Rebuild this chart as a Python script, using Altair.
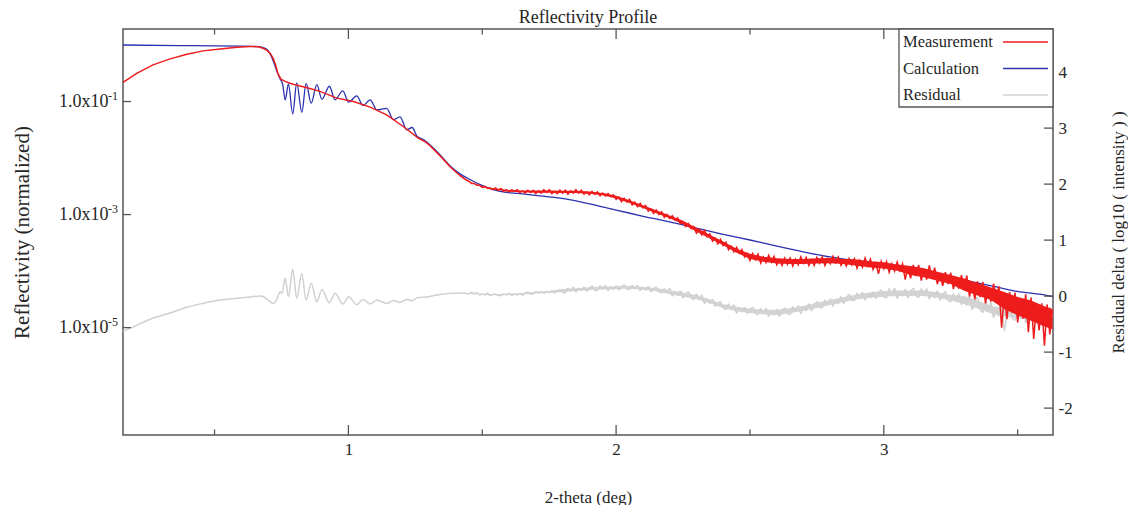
import altair as alt
import numpy as np
import pandas as pd

FONT = "Liberation Serif"
TXT = "#262626"
FRAME = "#555555"
W, H = 930, 406

# ---------------- data ----------------
x_domain = [0.158, 3.632]
left_domain = [1.2589e-7, 1.9187]          # 10^-6.9 .. 10^0.283
right_domain = [-2.48, 4.77]

# Measurement: log10(normalized reflectivity)
meas_smooth_x = [0.158, 0.211, 0.270, 0.334, 0.397, 0.457, 0.521, 0.584, 0.633, 0.663,
                 0.681, 0.696, 0.708, 0.719, 0.728, 0.737, 0.749, 0.764, 0.782, 0.808,
                 0.846, 0.894, 0.957, 1.019, 1.081, 1.143, 1.205, 1.261, 1.287, 1.305,
                 1.342, 1.380, 1.417, 1.436]
meas_smooth_log = [-0.661, -0.498, -0.352, -0.246, -0.163, -0.104, -0.069, -0.039, -0.025, -0.030,
                   -0.057, -0.095, -0.148, -0.237, -0.352, -0.511, -0.608, -0.643, -0.678, -0.714,
                   -0.758, -0.820, -0.940, -1.000, -1.099, -1.235, -1.442, -1.647, -1.712, -1.783,
                   -1.959, -2.154, -2.313, -2.375]
noisy_x = [round(1.45 + 0.01 * i, 2) for i in range(219)]   # 1.45 .. 3.63
meas_noisy_log = [
    -2.41, -2.45, -2.45, -2.48, -2.48, -2.52, -2.50, -2.54, -2.53, -2.56,
    -2.53, -2.57, -2.54, -2.59, -2.56, -2.60, -2.56, -2.59, -2.56, -2.61,
    -2.58, -2.62, -2.57, -2.61, -2.57, -2.63, -2.58, -2.62, -2.56, -2.61,
    -2.56, -2.63, -2.59, -2.63, -2.57, -2.62, -2.57, -2.64, -2.58, -2.62,
    -2.56, -2.62, -2.57, -2.64, -2.60, -2.65, -2.59, -2.64, -2.60, -2.67,
    -2.62, -2.67, -2.63, -2.68, -2.65, -2.73, -2.69, -2.77, -2.71, -2.78,
    -2.73, -2.83, -2.78, -2.86, -2.80, -2.88, -2.84, -2.94, -2.90, -2.98,
    -2.92, -3.00, -2.95, -3.05, -3.00, -3.07, -3.02, -3.10, -3.06, -3.16,
    -3.13, -3.21, -3.16, -3.25, -3.21, -3.33, -3.26, -3.36, -3.28, -3.39,
    -3.34, -3.47, -3.42, -3.52, -3.44, -3.55, -3.49, -3.62, -3.56, -3.66,
    -3.58, -3.68, -3.62, -3.75, -3.69, -3.81, -3.69, -3.80, -3.70, -3.86,
    -3.75, -3.85, -3.72, -3.84, -3.74, -3.89, -3.80, -3.90, -3.77, -3.88,
    -3.77, -3.91, -3.79, -3.89, -3.75, -3.86, -3.76, -3.90, -3.80, -3.90,
    -3.76, -3.86, -3.75, -3.90, -3.78, -3.87, -3.74, -3.85, -3.75, -3.90,
    -3.81, -3.91, -3.78, -3.89, -3.78, -3.95, -3.81, -3.93, -3.77, -3.91,
    -3.79, -3.97, -3.86, -4.05, -3.83, -3.96, -3.83, -4.02, -3.87, -4.00,
    -3.84, -3.99, -3.87, -4.15, -3.94, -4.13, -3.89, -4.09, -3.89, -4.17,
    -3.96, -4.15, -3.90, -4.13, -3.94, -4.23, -4.06, -4.26, -4.02, -4.23,
    -4.03, -4.32, -4.11, -4.31, -4.07, -4.32, -4.08, -4.45, -4.23, -4.50,
    -4.18, -4.46, -4.19, -4.57, -4.28, -4.54, -4.22, -4.51, -4.27, -5.00,
    -4.42, -4.85, -4.37, -4.74, -4.38, -4.91, -4.48, -4.84, -4.41, -5.08,
    -4.47, -5.20, -4.62, -5.05, -4.57, -5.32, -4.59, -5.12, -4.69,
]
# solid core of the noisy measurement band (lower / upper edge, log10)
band_x = [1.45, 1.50, 1.55, 1.60, 1.65, 1.70, 1.75, 1.80, 1.85, 1.90,
          1.95, 2.00, 2.05, 2.10, 2.15, 2.20, 2.25, 2.30, 2.35, 2.40,
          2.45, 2.50, 2.55, 2.60, 2.65, 2.70, 2.75, 2.80, 2.85, 2.90,
          2.95, 3.00, 3.05, 3.10, 3.15, 3.20, 3.25, 3.30, 3.35, 3.40,
          3.45, 3.50, 3.55, 3.60, 3.63]
meas_band_lo = [-2.425, -2.518, -2.562, -2.595, -2.605, -2.615, -2.615, -2.62, -2.62, -2.63,
                -2.66, -2.715, -2.795, -2.885, -2.975, -3.065, -3.17, -3.305, -3.425, -3.545,
                -3.675, -3.785, -3.835, -3.865, -3.875, -3.875, -3.865, -3.86, -3.875, -3.905,
                -3.935, -3.955, -3.995, -4.07, -4.11, -4.17, -4.23, -4.35, -4.43, -4.51,
                -4.67, -4.78, -4.88, -4.98, -5.03]
meas_band_hi = [-2.415, -2.502, -2.538, -2.565, -2.575, -2.575, -2.575, -2.58, -2.58, -2.59,
                -2.62, -2.665, -2.745, -2.835, -2.925, -3.015, -3.11, -3.235, -3.355, -3.475,
                -3.605, -3.695, -3.745, -3.775, -3.785, -3.785, -3.775, -3.77, -3.785, -3.795,
                -3.825, -3.845, -3.885, -3.91, -3.95, -4.01, -4.07, -4.13, -4.21, -4.29,
                -4.37, -4.46, -4.52, -4.62, -4.67]

# Calculation: log10(normalized reflectivity)
calc_x = [0.158, 0.371, 0.595, 0.663, 0.685, 0.700, 0.711, 0.722, 0.734, 0.745,
          0.754, 0.764, 0.776, 0.792, 0.807, 0.826, 0.842, 0.861, 0.882, 0.901,
          0.929, 0.950, 0.979, 1.001, 1.031, 1.055, 1.081, 1.107, 1.143, 1.168,
          1.193, 1.218, 1.238, 1.257, 1.283, 1.305, 1.342, 1.380, 1.417, 1.454,
          1.492, 1.529, 1.567, 1.641, 1.716, 1.791, 2.000, 2.101, 2.200, 2.299,
          2.400, 2.500, 2.601, 2.699, 2.799, 2.900, 3.001, 3.098, 3.199, 3.300,
          3.401, 3.498, 3.599, 3.632]
calc_log = [0.00, -0.01, -0.02, -0.03, -0.05, -0.10, -0.19, -0.32, -0.48, -0.60,
            -0.69, -0.97, -0.69, -1.22, -0.67, -1.19, -0.68, -1.03, -0.70, -0.96,
            -0.73, -0.97, -0.81, -1.01, -0.90, -1.07, -0.97, -1.15, -1.12, -1.32,
            -1.27, -1.50, -1.46, -1.62, -1.68, -1.77, -1.94, -2.14, -2.28, -2.38,
            -2.47, -2.54, -2.59, -2.63, -2.67, -2.71, -2.92, -3.03, -3.13, -3.24,
            -3.35, -3.45, -3.56, -3.66, -3.75, -3.82, -3.89, -3.97, -4.06, -4.16,
            -4.26, -4.36, -4.42, -4.45]

# Residual delta (log10 intensity), right axis
res_smooth_x = [0.158, 0.196, 0.271, 0.334, 0.396, 0.457, 0.521, 0.583, 0.640, 0.675,
                0.697, 0.719, 0.733, 0.745, 0.752, 0.764, 0.776, 0.792, 0.807, 0.826,
                0.842, 0.861, 0.882, 0.901, 0.929, 0.950, 0.979, 1.001, 1.031, 1.055,
                1.081, 1.107, 1.143, 1.168, 1.193, 1.218, 1.238, 1.257, 1.300, 1.330,
                1.392, 1.430]
res_smooth = [-0.63, -0.55, -0.39, -0.30, -0.20, -0.13, -0.07, -0.04, -0.01, 0.00,
              -0.06, -0.13, -0.05, 0.08, 0.05, 0.32, -0.01, 0.48, -0.04, 0.40,
              -0.07, 0.23, -0.10, 0.12, -0.12, 0.05, -0.14, -0.01, -0.15, -0.06,
              -0.14, -0.07, -0.13, -0.08, -0.11, -0.06, -0.08, -0.03, -0.01, 0.02,
              0.05, 0.055]
res_noisy = [
    0.04, 0.07, 0.04, 0.06, 0.02, 0.04, 0.02, 0.05, 0.01, 0.03,
    0.04, 0.01, 0.01, 0.04, 0.02, 0.05, 0.01, 0.04, 0.02, 0.05,
    0.02, 0.05, 0.07, 0.04, 0.04, 0.08, 0.06, 0.08, 0.05, 0.08,
    0.06, 0.09, 0.06, 0.09, 0.11, 0.07, 0.06, 0.14, 0.09, 0.16,
    0.07, 0.14, 0.10, 0.16, 0.09, 0.14, 0.18, 0.11, 0.10, 0.18,
    0.13, 0.19, 0.10, 0.16, 0.12, 0.18, 0.11, 0.16, 0.20, 0.13,
    0.12, 0.19, 0.14, 0.19, 0.10, 0.16, 0.11, 0.17, 0.08, 0.13,
    0.16, 0.08, 0.06, 0.13, 0.07, 0.14, 0.00, 0.08, 0.01, 0.09,
    -0.03, 0.03, 0.08, -0.03, -0.06, 0.04, -0.05, 0.02, -0.13, -0.05,
    -0.13, -0.06, -0.18, -0.13, -0.10, -0.21, -0.24, -0.14, -0.23, -0.16,
    -0.30, -0.21, -0.28, -0.20, -0.31, -0.25, -0.20, -0.30, -0.33, -0.22,
    -0.30, -0.22, -0.36, -0.27, -0.34, -0.24, -0.36, -0.27, -0.21, -0.31,
    -0.33, -0.19, -0.27, -0.17, -0.31, -0.19, -0.26, -0.14, -0.26, -0.17,
    -0.10, -0.20, -0.21, -0.07, -0.15, -0.05, -0.18, -0.07, -0.13, -0.01,
    -0.13, -0.04, 0.03, -0.07, -0.08, 0.05, -0.03, 0.07, -0.07, 0.04,
    -0.03, 0.08, -0.04, 0.05, 0.11, -0.01, -0.03, 0.13, 0.02, 0.14,
    -0.04, 0.09, 0.00, 0.12, -0.03, 0.07, 0.14, 0.01, -0.02, 0.13,
    0.02, 0.13, -0.05, 0.07, -0.03, 0.09, -0.07, 0.02, 0.08, -0.07,
    -0.10, 0.04, -0.07, 0.04, -0.15, -0.02, -0.16, 0.00, -0.24, -0.11,
    -0.02, -0.23, -0.29, -0.09, -0.26, -0.11, -0.38, -0.21, -0.35, -0.18,
    -0.62, -0.27, -0.18, -0.39, -0.43, -0.22, -0.38, -0.21, -0.48, -0.30,
    -0.43, -0.24, -0.46, -0.31, -0.20, -0.39, -0.42, -0.20, -0.36,
]
res_band_lo = [0.045, 0.027, 0.015, 0.018, 0.033, 0.045, 0.06, 0.075, 0.09, 0.11,
               0.12, 0.125, 0.13, 0.115, 0.085, 0.035, -0.005, -0.055, -0.125, -0.215,
               -0.27, -0.30, -0.325, -0.335, -0.305, -0.26, -0.21, -0.16, -0.105, -0.06,
               -0.03, -0.01, 0.0, 0.0, 0.0, -0.03, -0.08, -0.14, -0.22, -0.31,
               -0.37, -0.40, -0.42, -0.40, -0.39]
res_band_hi = [0.055, 0.043, 0.035, 0.042, 0.057, 0.075, 0.09, 0.125, 0.14, 0.16,
               0.17, 0.175, 0.18, 0.165, 0.145, 0.105, 0.065, 0.015, -0.055, -0.145,
               -0.19, -0.22, -0.245, -0.245, -0.215, -0.17, -0.12, -0.07, -0.015, 0.03,
               0.07, 0.09, 0.10, 0.10, 0.10, 0.07, 0.02, 0.0, -0.08, -0.17,
               -0.21, -0.24, -0.26, -0.24, -0.23]

# axes / ticks / legend text
x_major = [1, 2, 3]
x_minor = [0.5, 1.5, 2.5, 3.5]
left_ticks = [1e-1, 1e-3, 1e-5]
left_exp = ["-1", "-3", "-5"]
right_ticks = [-2, -1, 0, 1, 2, 3, 4]
legend_labels = ["Measurement", "Calculation", "Residual"]
legend_colors = ["#EE1C1C", "#2A32B0", "#D0D0D0"]

# ---------------- frames ----------------
meas_df = pd.DataFrame({"x": meas_smooth_x + noisy_x,
                        "y": 10 ** np.array(meas_smooth_log + meas_noisy_log)})
meas_band_df = pd.DataFrame({"x": band_x, "lo": 10 ** np.array(meas_band_lo),
                             "hi": 10 ** np.array(meas_band_hi)})
calc_df = pd.DataFrame({"x": calc_x, "y": 10 ** np.array(calc_log)})
res_df = pd.DataFrame({"x": res_smooth_x + noisy_x, "r": res_smooth + res_noisy})
res_band_df = pd.DataFrame({"x": band_x, "lo": res_band_lo, "hi": res_band_hi})

xscale = alt.Scale(domain=x_domain, nice=False, zero=False)
lscale = alt.Scale(type="log", domain=left_domain, nice=False)
rscale = alt.Scale(domain=right_domain, nice=False, zero=False)

x_axis = alt.Axis(values=x_major, format="d", grid=False, domain=False, ticks=False,
                  tickSize=0, labelPadding=6, labelFontSize=17, labelFont=FONT,
                  labelColor=TXT, title="2-theta (deg)", titleFont=FONT,
                  titleFontSize=17, titleFontWeight="normal", titleColor=TXT,
                  titleX=W / 2, titleY=62, titleBaseline="middle", titleAlign="center")
X = alt.X("x:Q", scale=xscale, axis=x_axis)

left_axis = alt.Axis(values=left_ticks, labelExpr="'1.0x10'", grid=False, domain=False,
                     ticks=False, tickSize=0, labelPadding=15, labelFontSize=18,
                     labelFont=FONT, labelColor=TXT, labelBaseline="middle",
                     title="Reflectivity (normalized)", titleFont=FONT, titleFontSize=21,
                     titleFontWeight="normal", titleColor=TXT, titleAngle=270,
                     titleX=-101, titleY=H / 2, titleAlign="center", titleBaseline="middle")

right_axis = alt.Axis(orient="right", values=right_ticks, labelExpr="toString(datum.value)",
                      grid=False, domain=False, ticks=False, tickSize=0, labelPadding=5,
                      labelFontSize=17, labelFont=FONT, labelColor=TXT, labelBaseline="middle",
                      title="Residual delta ( log10 ( intensity ) )", titleFont=FONT,
                      titleFontSize=17, titleFontWeight="normal", titleColor=TXT,
                      titleAngle=270, titleX=65, titleY=H / 2, titleAlign="center",
                      titleBaseline="middle")

res_band = alt.Chart(res_band_df).mark_area(color=legend_colors[2], opacity=0.9).encode(
    x=X, y=alt.Y("lo:Q", scale=rscale, axis=None), y2="hi:Q")
res_line = alt.Chart(res_df).mark_line(color=legend_colors[2], strokeWidth=1.5,
                                        interpolate="monotone").encode(
    x=X, y=alt.Y("r:Q", scale=rscale, axis=right_axis), order="x:Q")
calc_line = alt.Chart(calc_df).mark_line(color=legend_colors[1], strokeWidth=1.3,
                                          interpolate="monotone").encode(
    x=X, y=alt.Y("y:Q", scale=lscale, axis=left_axis), order="x:Q")
meas_band = alt.Chart(meas_band_df).mark_area(color=legend_colors[0]).encode(
    x=X, y=alt.Y("lo:Q", scale=lscale, axis=None), y2="hi:Q")
meas_line = alt.Chart(meas_df).mark_line(color=legend_colors[0], strokeWidth=1.5).encode(
    x=X, y=alt.Y("y:Q", scale=lscale, axis=None), order="x:Q")

# inner ticks
maj_df = pd.DataFrame({"x": x_major})
min_df = pd.DataFrame({"x": x_minor})
tick_style = dict(color=FRAME, strokeWidth=1.3)
bx_maj = alt.Chart(maj_df).mark_rule(**tick_style).encode(x=X, y=alt.value(H), y2=alt.value(H - 10))
bx_min = alt.Chart(min_df).mark_rule(**tick_style).encode(x=X, y=alt.value(H), y2=alt.value(H - 5.5))
tx_maj = alt.Chart(maj_df).mark_rule(**tick_style).encode(x=X, y=alt.value(0), y2=alt.value(10))
tx_min = alt.Chart(min_df).mark_rule(**tick_style).encode(x=X, y=alt.value(0), y2=alt.value(5.5))

lt_df = pd.DataFrame({"v": left_ticks, "e": left_exp})
l_ticks = alt.Chart(lt_df).mark_rule(**tick_style).encode(
    y=alt.Y("v:Q", scale=lscale, axis=None), x=alt.value(0), x2=alt.value(8))
l_exp = alt.Chart(lt_df).mark_text(align="left", baseline="middle", dy=-6, fontSize=12,
                                   font=FONT, color=TXT).encode(
    y=alt.Y("v:Q", scale=lscale, axis=None), x=alt.value(-15), text="e:N")

rt_df = pd.DataFrame({"v": right_ticks})
r_ticks = alt.Chart(rt_df).mark_rule(**tick_style).encode(
    y=alt.Y("v:Q", scale=rscale, axis=None), x=alt.value(W - 9), x2=alt.value(W))

# legend box
leg_df = pd.DataFrame({"label": legend_labels})
leg_box = alt.Chart(pd.DataFrame({"b": [0]})).mark_rect(
    fill="white", stroke=FRAME, strokeWidth=1.3).encode(
    x=alt.value(776), x2=alt.value(W), y=alt.value(0), y2=alt.value(78))
leg_y = alt.Y("label:N", scale=alt.Scale(type="point", domain=legend_labels,
                                          range=[13, 66], padding=0), axis=None)
leg_text = alt.Chart(leg_df).mark_text(align="left", baseline="middle", fontSize=16.5,
                                       font=FONT, color=TXT).encode(
    y=leg_y, x=alt.value(780), text="label:N")
leg_lines = alt.Chart(leg_df).mark_rule(strokeWidth=1.3).encode(
    y=leg_y, x=alt.value(880), x2=alt.value(925),
    color=alt.Color("label:N", scale=alt.Scale(domain=legend_labels, range=legend_colors),
                    legend=None))

chart = alt.layer(
    res_band, res_line, calc_line, meas_band, meas_line,
    bx_maj, bx_min, tx_maj, tx_min, l_ticks, l_exp, r_ticks,
    leg_box, leg_text, leg_lines,
).resolve_scale(y="independent").properties(
    width=W, height=H,
    title=alt.TitleParams("Reflectivity Profile", font=FONT, fontSize=18, fontWeight="normal",
                          color=TXT, frame="group", anchor="middle", offset=1),
    autosize=alt.AutoSizeParams(type="none"),
    padding={"left": 115, "right": 75, "top": 21, "bottom": 70},
).configure_view(stroke=FRAME, strokeWidth=1.5)

chart.save("out.html", embed_options={"renderer": "svg", "actions": False})
